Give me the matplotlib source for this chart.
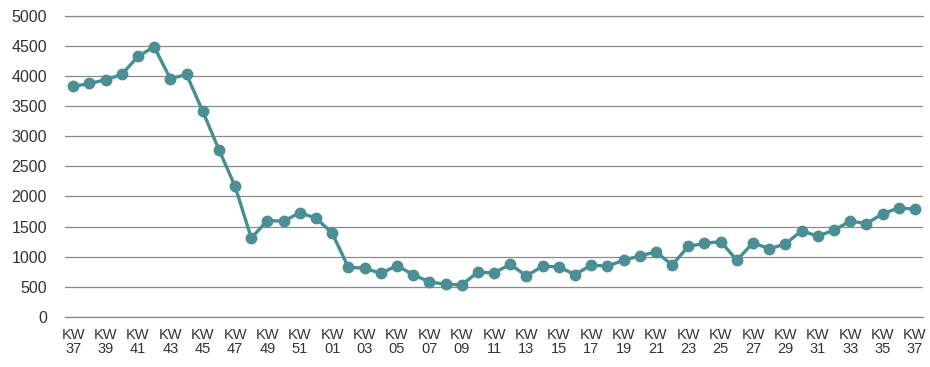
import numpy as np
import matplotlib as mpl
mpl.use('Agg')
import matplotlib.pyplot as plt

mpl.rcParams['font.family'] = ['Liberation Sans', 'DejaVu Sans']

weeks = list(range(37, 53)) + list(range(1, 38))
values = [3830, 3880, 3940, 4030, 4330, 4490, 3960, 4030, 3420, 2780,
          2170, 1310, 1600, 1590, 1730, 1640, 1390, 820, 810, 720,
          850, 700, 580, 540, 530, 740, 730, 870, 680, 840,
          830, 700, 860, 840, 940, 1010, 1080, 860, 1170, 1220,
          1250, 940, 1230, 1130, 1210, 1430, 1340, 1440, 1590, 1550,
          1710, 1810, 1790]
yticks = [0, 500, 1000, 1500, 2000, 2500, 3000, 3500, 4000, 4500, 5000]

fig = plt.figure(figsize=(9.3, 3.67), dpi=100)
ax = fig.add_axes([0.070, 0.137, 0.9225, 0.819])

x = np.arange(len(values))
ax.plot(x, values, color='#44908f', lw=2.4, marker='o', ms=7.5,
        markerfacecolor='#4b8e93', markeredgecolor='#4b8e93', zorder=3)

ax.set_xlim(-0.5, len(values) - 0.5)
ax.set_ylim(0, 5000)
ax.set_yticks(yticks)
ax.set_yticklabels([str(v) for v in yticks], fontsize=11.5, color='#333333')
lab_idx = x[::2]
ax.set_xticks(lab_idx)
ax.set_xticklabels(['KW\n%02d' % weeks[i] for i in lab_idx], fontsize=10.5,
                   color='#333333', linespacing=1.05)
ax.tick_params(axis='both', length=0)
ax.tick_params(axis='y', pad=13)
ax.tick_params(axis='x', pad=8)
ax.grid(axis='y', color='#8a8a8a', lw=0.9)
ax.axhline(0, color='#8a8a8a', lw=0.9, clip_on=False, zorder=1)
ax.axhline(5000, color='#8a8a8a', lw=0.9, clip_on=False, zorder=1)
ax.set_axisbelow(True)
for s in ax.spines.values():
    s.set_visible(False)

plt.savefig('out.png', dpi=100)
